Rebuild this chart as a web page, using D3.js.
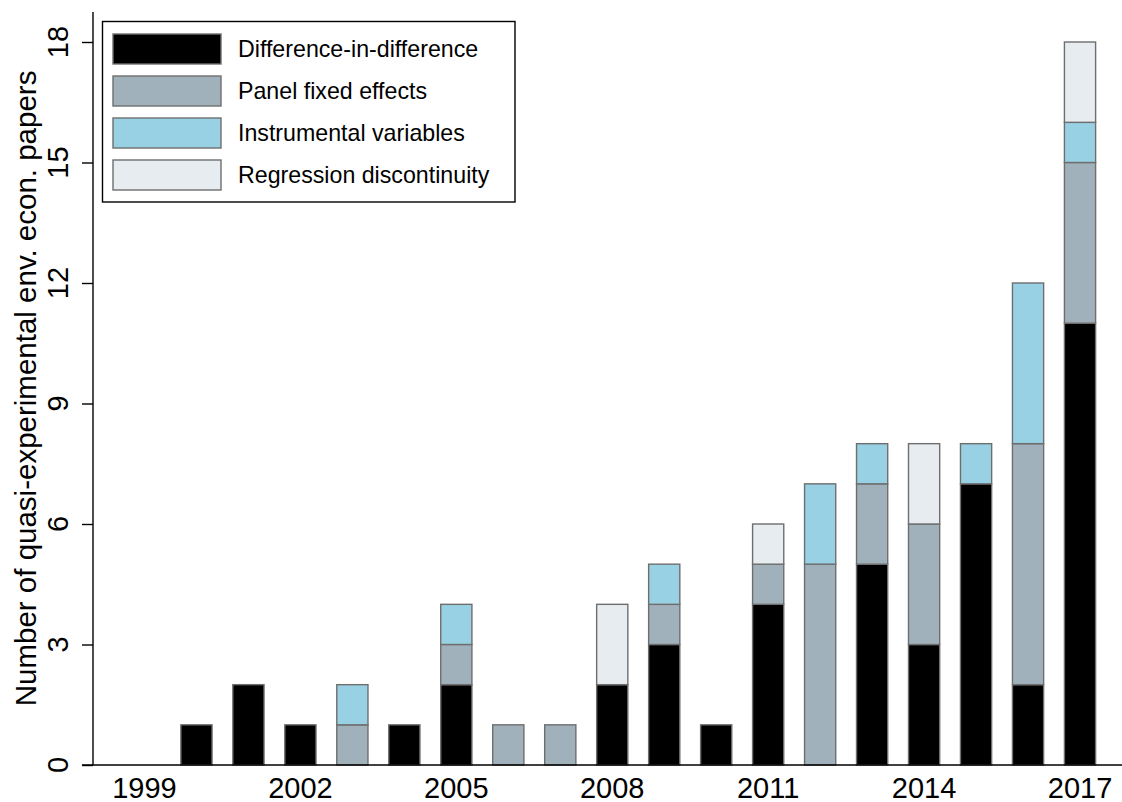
<!DOCTYPE html>
<html>
<head>
<meta charset="utf-8">
<script src="https://cdn.jsdelivr.net/npm/d3@7"></script>
<style>
  body { margin: 0; background: #fff; }
  text { font-family: "Liberation Sans", Arial, sans-serif; fill: #000; }
</style>
</head>
<body>
<svg id="chart" width="1122" height="802"></svg>
<script>
// data
const years = d3.range(1999, 2018);
const methods = ["Difference-in-difference", "Panel fixed effects", "Instrumental variables", "Regression discontinuity"];
const did = [0, 1, 2, 1, 0, 1, 2, 0, 0, 2, 3, 1, 4, 0, 5, 3, 7, 2, 11];
const pfe = [0, 0, 0, 0, 1, 0, 1, 1, 1, 0, 1, 0, 1, 5, 2, 3, 0, 6, 4];
const iv  = [0, 0, 0, 0, 1, 0, 1, 0, 0, 0, 1, 0, 0, 2, 1, 0, 1, 4, 1];
const rd  = [0, 0, 0, 0, 0, 0, 0, 0, 0, 2, 0, 0, 1, 0, 0, 2, 0, 0, 2];
const yTicks = [0, 3, 6, 9, 12, 15, 18];
const xLabels = [1999, 2002, 2005, 2008, 2011, 2014, 2017];

const colors = ["#000000", "#a1b1bc", "#98d1e3", "#e7ecf0"];

const rows = years.map((yr, i) => ({
  year: yr,
  [methods[0]]: did[i],
  [methods[1]]: pfe[i],
  [methods[2]]: iv[i],
  [methods[3]]: rd[i]
}));

const svg = d3.select("#chart");

const x = d3.scaleBand()
    .domain(years)
    .range([118.5, 1106])
    .paddingInner(0.4)
    .paddingOuter(0.2);

const y = d3.scaleLinear().domain([0, 18]).range([765, 42]);
const yTop = 18.75; // plot region goes a bit past the last tick

const color = d3.scaleOrdinal().domain(methods).range(colors);

const series = d3.stack().keys(methods)(rows);

// bars
svg.append("g")
  .selectAll("g")
  .data(series)
  .join("g")
    .attr("fill", d => color(d.key))
  .selectAll("rect")
  .data(d => d.filter(s => s[1] > s[0]))
  .join("rect")
    .attr("x", d => x(d.data.year))
    .attr("y", d => y(d[1]))
    .attr("width", x.bandwidth())
    .attr("height", d => y(d[0]) - y(d[1]))
    .attr("stroke", "#6e6e6e")
    .attr("stroke-width", 1.4);

// x axis: a plain line with labels, no ticks
svg.append("line")
    .attr("x1", 82).attr("x2", 1122)
    .attr("y1", y(0)).attr("y2", y(0))
    .attr("stroke", "#000").attr("stroke-width", 1.4);

svg.append("g")
  .selectAll("text")
  .data(xLabels)
  .join("text")
    .attr("x", d => x(d) + x.bandwidth() / 2)
    .attr("y", 798)
    .attr("text-anchor", "middle")
    .style("font-size", "29px")
    .text(d => d);

// y axis
const yAxis = svg.append("g")
    .attr("transform", "translate(93,0)")
    .call(d3.axisLeft(y).tickValues(yTicks).tickSize(11).tickFormat(""));
yAxis.select(".domain")
    .attr("d", `M0,${y(0)}V${y(yTop)}`)
    .attr("stroke-width", 1.4);
yAxis.selectAll(".tick line").attr("stroke-width", 1.4);

svg.append("g")
  .selectAll("text")
  .data(yTicks)
  .join("text")
    .attr("transform", d => `translate(68,${y(d)}) rotate(-90)`)
    .attr("text-anchor", "middle")
    .style("font-size", "29px")
    .text(d => d);

svg.append("text")
    .attr("transform", `translate(36,${(y(0) + y(yTop)) / 2}) rotate(-90)`)
    .attr("text-anchor", "middle")
    .style("font-size", "29.5px")
    .text("Number of quasi-experimental env. econ. papers");

// legend
const legend = svg.append("g");
legend.append("rect")
    .attr("x", 102.5).attr("y", 21.5)
    .attr("width", 412.5).attr("height", 180.5)
    .attr("fill", "#fff")
    .attr("stroke", "#000").attr("stroke-width", 1.4);

const item = legend.selectAll("g")
  .data(methods)
  .join("g")
    .attr("transform", (d, i) => `translate(113,${34 + i * 42})`);

item.append("rect")
    .attr("width", 108).attr("height", 30)
    .attr("fill", d => color(d))
    .attr("stroke", "#6e6e6e").attr("stroke-width", 1.4);

item.append("text")
    .attr("x", 125)
    .attr("y", 15)
    .attr("dy", "0.36em")
    .style("font-size", "23.2px")
    .text(d => d);
</script>
</body>
</html>
